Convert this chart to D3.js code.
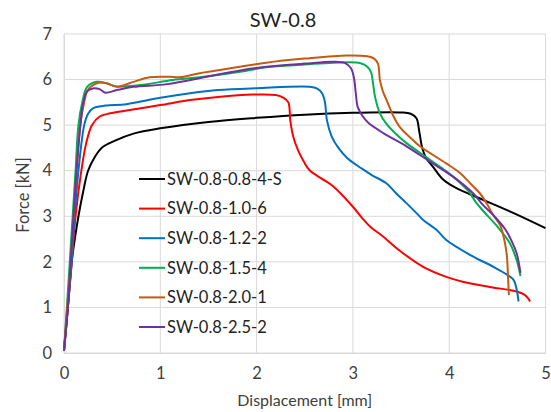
<!DOCTYPE html>
<html>
<head>
<meta charset="utf-8">
<script src="https://cdn.jsdelivr.net/npm/d3@7"></script>
<style>
    body { margin: 0; background: #fff; }
    svg text { font-family: Lato, "Open Sans", sans-serif; fill: #404040; }
</style>
</head>
<body>
<div id="chart"></div>
<script>
// Data: [displacement mm, force kN]
const s08_4S = [[0,0.05],[0.04,1],[0.08,2],[0.15,3],[0.2,3.55],[0.25,4.0],[0.32,4.3],[0.39,4.5],[0.53,4.66],[0.73,4.82],[1.0,4.93],[1.5,5.07],[2.0,5.16],[2.5,5.23],[3.0,5.27],[3.5,5.28],[3.6,5.25],[3.66,5.15],[3.69,4.85],[3.72,4.5],[3.76,4.28],[3.83,4.09],[3.94,3.8],[4.08,3.61],[4.32,3.39],[4.67,3.07],[5.0,2.74]];
const s10_6 = [[0,0.05],[0.04,1],[0.08,2],[0.12,3],[0.18,4],[0.23,4.6],[0.29,5.0],[0.37,5.19],[0.48,5.26],[0.65,5.32],[1.0,5.44],[1.31,5.55],[1.6,5.62],[1.96,5.67],[2.2,5.66],[2.28,5.6],[2.33,5.5],[2.35,5.1],[2.38,4.75],[2.43,4.45],[2.49,4.2],[2.55,4.01],[2.68,3.82],[2.8,3.65],[3.0,3.21],[3.1,2.95],[3.18,2.77],[3.3,2.58],[3.49,2.24],[3.73,1.89],[3.97,1.67],[4.15,1.56],[4.42,1.45],[4.7,1.35],[4.78,1.28],[4.82,1.2],[4.84,1.13]];
const s12_2 = [[0,0.05],[0.04,1],[0.08,2],[0.11,3],[0.15,4],[0.21,5.0],[0.25,5.25],[0.3,5.37],[0.43,5.43],[0.65,5.46],[1.0,5.6],[1.31,5.7],[1.6,5.77],[2.0,5.81],[2.55,5.84],[2.63,5.8],[2.68,5.7],[2.71,5.5],[2.73,5.11],[2.78,4.75],[2.85,4.5],[2.94,4.28],[3.09,4.05],[3.2,3.9],[3.35,3.72],[3.45,3.5],[3.55,3.3],[3.66,3.07],[3.73,2.92],[3.87,2.7],[3.97,2.48],[4.22,2.15],[4.46,1.89],[4.6,1.72],[4.67,1.6],[4.7,1.4],[4.72,1.13]];
const s15_4 = [[0,0.05],[0.03,1],[0.06,2],[0.09,3],[0.12,4],[0.15,5],[0.19,5.5],[0.24,5.84],[0.34,5.95],[0.44,5.92],[0.55,5.85],[0.79,5.88],[1.13,5.99],[1.41,6.05],[1.83,6.17],[2.1,6.27],[2.5,6.33],[2.8,6.37],[3.08,6.36],[3.15,6.28],[3.19,6.15],[3.21,5.9],[3.23,5.62],[3.28,5.26],[3.35,5.02],[3.45,4.8],[3.56,4.6],[3.8,4.24],[4.04,3.87],[4.2,3.55],[4.28,3.3],[4.36,3.1],[4.49,2.8],[4.63,2.41],[4.7,2.04],[4.74,1.69]];
const s20_1 = [[0,0.05],[0.03,0.9],[0.07,2],[0.1,3],[0.13,4],[0.17,5],[0.21,5.5],[0.25,5.78],[0.36,5.93],[0.44,5.92],[0.55,5.84],[0.72,5.95],[0.89,6.05],[1.1,6.06],[1.2,6.05],[1.41,6.14],[1.83,6.28],[2.1,6.37],[2.5,6.46],[2.94,6.53],[3.15,6.51],[3.22,6.46],[3.26,6.35],[3.28,6.0],[3.31,5.75],[3.35,5.55],[3.42,5.2],[3.49,4.95],[3.6,4.72],[3.7,4.53],[3.97,4.16],[4.1,3.97],[4.22,3.72],[4.32,3.5],[4.39,3.28],[4.45,3.05],[4.53,2.8],[4.58,2.4],[4.6,2.11],[4.61,1.7],[4.62,1.27]];
const s25_2 = [[0,0.05],[0.04,1],[0.07,2],[0.1,3],[0.13,4],[0.17,5],[0.2,5.5],[0.24,5.74],[0.31,5.81],[0.37,5.79],[0.43,5.71],[0.55,5.77],[0.72,5.84],[1.07,5.9],[1.48,6.06],[1.83,6.2],[2.1,6.28],[2.5,6.35],[2.8,6.39],[2.92,6.36],[2.98,6.25],[3.01,6.05],[3.03,5.7],[3.05,5.4],[3.1,5.2],[3.16,5.05],[3.32,4.82],[3.56,4.53],[3.8,4.2],[4.04,3.87],[4.25,3.5],[4.35,3.25],[4.46,3.02],[4.58,2.72],[4.65,2.45],[4.7,2.19],[4.74,1.76]];

const seriesNames = ["SW-0.8-0.8-4-S", "SW-0.8-1.0-6", "SW-0.8-1.2-2", "SW-0.8-1.5-4", "SW-0.8-2.0-1", "SW-0.8-2.5-2"];
const seriesData = [s08_4S, s10_6, s12_2, s15_4, s20_1, s25_2];
const seriesColors = ["#000000", "#ff0000", "#0070c0", "#00b050", "#c55a11", "#7030a0"];
const xTicks = [0, 1, 2, 3, 4, 5];
const yTicks = [0, 1, 2, 3, 4, 5, 6, 7];

const width = 551, height = 412;
const margin = { top: 34, right: 5.5, bottom: 59, left: 64 };
const chartWidth = width - margin.left - margin.right;
const chartHeight = height - margin.top - margin.bottom;

const svg = d3.select("#chart")
    .append("svg")
    .attr("width", width)
    .attr("height", height);

const g = svg.append("g")
    .attr("transform", `translate(${margin.left},${margin.top})`);

const x = d3.scaleLinear().domain([0, 5]).range([0, chartWidth]);
const y = d3.scaleLinear().domain([0, 7]).range([chartHeight, 0]);

// Gridlines
g.append("g")
    .selectAll("line")
    .data(yTicks)
    .enter()
    .append("line")
    .attr("x1", 0)
    .attr("x2", chartWidth)
    .attr("y1", (d) => y(d))
    .attr("y2", (d) => y(d))
    .attr("stroke", "#d9d9d9")
    .attr("stroke-width", 1);

g.append("g")
    .selectAll("line")
    .data(xTicks)
    .enter()
    .append("line")
    .attr("x1", (d) => x(d))
    .attr("x2", (d) => x(d))
    .attr("y1", 0)
    .attr("y2", chartHeight)
    .attr("stroke", "#d9d9d9")
    .attr("stroke-width", 1);

// Axes (labels only, lines are the gridlines)
const xAxis = g.append("g")
    .attr("transform", `translate(0,${chartHeight})`)
    .call(d3.axisBottom(x).tickValues(xTicks).tickSize(0).tickPadding(14).tickFormat(d3.format("d")));
const yAxis = g.append("g")
    .call(d3.axisLeft(y).tickValues(yTicks).tickSize(0).tickPadding(12).tickFormat(d3.format("d")));
[xAxis, yAxis].forEach((a) => {
    a.select(".domain").attr("stroke", "#d9d9d9");
    a.selectAll("text").style("font-size", "16.5px").attr("fill", "#333");
});

// Curves
const line = d3.line()
    .x((d) => x(d[0]))
    .y((d) => y(d[1]))
    .curve(d3.curveCatmullRom.alpha(0.5));

g.selectAll(".curve")
    .data(seriesData)
    .enter()
    .append("path")
    .attr("class", "curve")
    .attr("d", line)
    .attr("fill", "none")
    .attr("stroke", (d, i) => seriesColors[i])
    .attr("stroke-width", 2)
    .attr("stroke-linejoin", "round");

// Legend
const legend = svg.append("g").attr("transform", "translate(139,179)");
seriesNames.forEach((name, i) => {
    const row = legend.append("g").attr("transform", `translate(0,${i * 29.6})`);
    row.append("line")
        .attr("x1", 0).attr("x2", 26)
        .attr("stroke", seriesColors[i])
        .attr("stroke-width", 2);
    row.append("text")
        .attr("x", 28)
        .attr("dy", "0.35em")
        .style("font-size", "16.5px")
        .style("fill", "#222")
        .text(name);
});

// Title and axis titles
svg.append("text")
    .attr("x", 283)
    .attr("y", 27)
    .attr("text-anchor", "middle")
    .style("font-size", "20px")
    .style("fill", "#222")
    .text("SW-0.8");

svg.append("text")
    .attr("x", margin.left + chartWidth / 2)
    .attr("y", 406)
    .attr("text-anchor", "middle")
    .style("font-size", "16px")
    .text("Displacement [mm]");

svg.append("text")
    .attr("transform", "translate(29,195) rotate(-90)")
    .attr("text-anchor", "middle")
    .style("font-size", "16.5px")
    .text("Force [kN]");
</script>
</body>
</html>
